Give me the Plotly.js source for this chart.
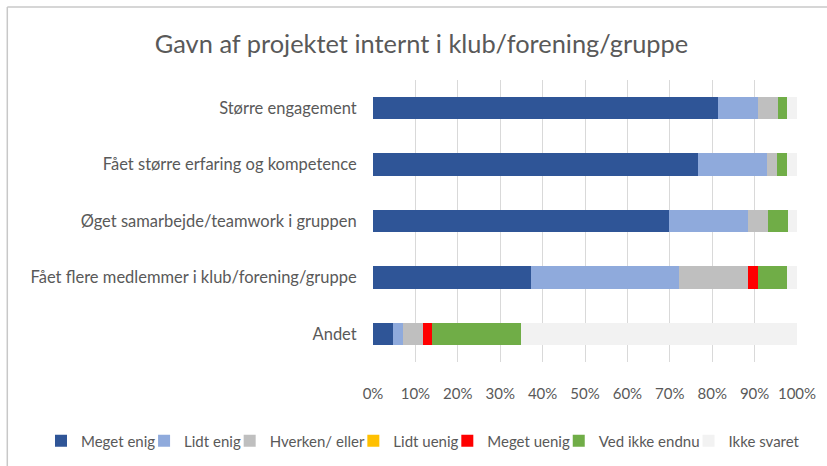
<!DOCTYPE html>
<html>
<head>
<meta charset="utf-8">
<script src="https://cdn.plot.ly/plotly-3.0.1.min.js"></script>
<style>html,body{margin:0;padding:0;background:#fff;}#chart{width:827px;height:466px;}</style>
</head>
<body>
<div id="chart"></div>
<script>
const categories = [
  "Større engagement",
  "Fået større erfaring og kompetence",
  "Øget samarbejde/teamwork i gruppen",
  "Fået flere medlemmer i klub/forening/gruppe",
  "Andet"
];
const seriesNames = ["Meget enig", "Lidt enig", "Hverken/ eller", "Lidt uenig", "Meget uenig", "Ved ikke endnu", "Ikke svaret"];
const megetEnig   = [81.4, 76.7, 69.8, 37.2, 4.7];
const lidtEnig    = [9.3, 16.3, 18.6, 34.9, 2.3];
const hverken     = [4.7, 2.3, 4.7, 16.3, 4.7];
const lidtUenig   = [0, 0, 0, 0, 0];
const megetUenig  = [0, 0, 0, 2.3, 2.3];
const vedIkke     = [2.3, 2.3, 4.7, 7.0, 20.9];
const ikkeSvaret  = [2.3, 2.3, 2.3, 2.3, 65.1];
const tickVals = [0, 10, 20, 30, 40, 50, 60, 70, 80, 90, 100];
const tickText = ["0%", "10%", "20%", "30%", "40%", "50%", "60%", "70%", "80%", "90%", "100%"];

const seriesValues = [megetEnig, lidtEnig, hverken, lidtUenig, megetUenig, vedIkke, ikkeSvaret];
const colors = ["#2F5597", "#8FAADC", "#BFBFBF", "#FFC000", "#FF0000", "#70AD47", "#F2F2F2"];

const FONT = "Lato, 'Open Sans', sans-serif";
const LEG_SIZE = 15;
const W = 827, H = 466;
const L = 372.7, R = 796.7, T = 80, B = 362.3;
const px = v => (v - L) / (R - L);
const py = v => (B - v) / (B - T);

// legend placement: one native legend per series, laid out in a row
const cvs = document.createElement("canvas").getContext("2d");
cvs.font = LEG_SIZE + "px Lato";
const textW = seriesNames.map(n => cvs.measureText(n).width);
const TEXT_OFF = 40, SYM_LEFT = 14, GAP = 3;
const legendIds = seriesNames.map((_, i) => i === 0 ? "legend" : "legend" + (i + 1));
const xs = [];
let cur = 0;
seriesNames.forEach((_, i) => {
  xs.push(cur);
  cur = cur + TEXT_OFF + textW[i] + GAP - SYM_LEFT;
});
const spanLeft = xs[0] + SYM_LEFT;
const spanRight = xs[6] + TEXT_OFF + textW[6];
const shift = 427 - (spanLeft + spanRight) / 2;

const traces = seriesNames.map((name, i) => ({
  type: "bar",
  orientation: "h",
  name: name,
  y: categories,
  x: seriesValues[i],
  legend: legendIds[i],
  marker: {color: colors[i], line: {width: 0}},
  hoverinfo: "x+name"
}));

const layout = {
  width: W, height: H,
  margin: {l: L, r: W - R, t: T, b: H - B, pad: 0},
  paper_bgcolor: "#ffffff",
  plot_bgcolor: "#ffffff",
  barmode: "stack",
  bargap: 0.6,
  font: {family: FONT, color: "#595959", size: 15},
  title: {
    text: "Gavn af projektet internt i klub/forening/gruppe",
    font: {family: FONT, size: 25.4, color: "#595959"},
    x: 421.5 / W, xanchor: "center", xref: "container",
    y: 1 - 44 / H, yanchor: "middle", yref: "container"
  },
  xaxis: {
    range: [0, 100],
    tickvals: tickVals,
    ticktext: tickText,
    showgrid: true,
    gridcolor: "#D9D9D9",
    gridwidth: 1,
    zeroline: false,
    showline: false,
    ticks: "outside",
    ticklen: 18,
    tickcolor: "rgba(0,0,0,0)",
    tickfont: {family: FONT, size: 15, color: "#595959"},
    fixedrange: true
  },
  yaxis: {
    autorange: "reversed",
    showgrid: false,
    zeroline: false,
    showline: false,
    ticks: "outside",
    ticklen: 12,
    tickcolor: "rgba(0,0,0,0)",
    tickfont: {family: FONT, size: 16.5, color: "#595959"},
    fixedrange: true
  },
  showlegend: true,
  shapes: [
    {type: "line", xref: "paper", yref: "paper", x0: px(7), x1: px(7), y0: py(7), y1: py(470), line: {color: "#C8C8C8", width: 1.5}},
    {type: "line", xref: "paper", yref: "paper", x0: px(7), x1: px(830), y0: py(7), y1: py(7), line: {color: "#C8C8C8", width: 1.5}}
  ]
};
legendIds.forEach((id, i) => {
  layout[id] = {
    orientation: "h",
    x: (xs[i] + shift) / W, xanchor: "left", xref: "container",
    y: 1 - 441 / H, yanchor: "middle", yref: "container",
    font: {family: FONT, size: LEG_SIZE, color: "#595959"},
    bgcolor: "rgba(0,0,0,0)",
    itemwidth: 30
  };
});

Plotly.newPlot("chart", traces, layout, {displayModeBar: false, staticPlot: true});
</script>
</body>
</html>
